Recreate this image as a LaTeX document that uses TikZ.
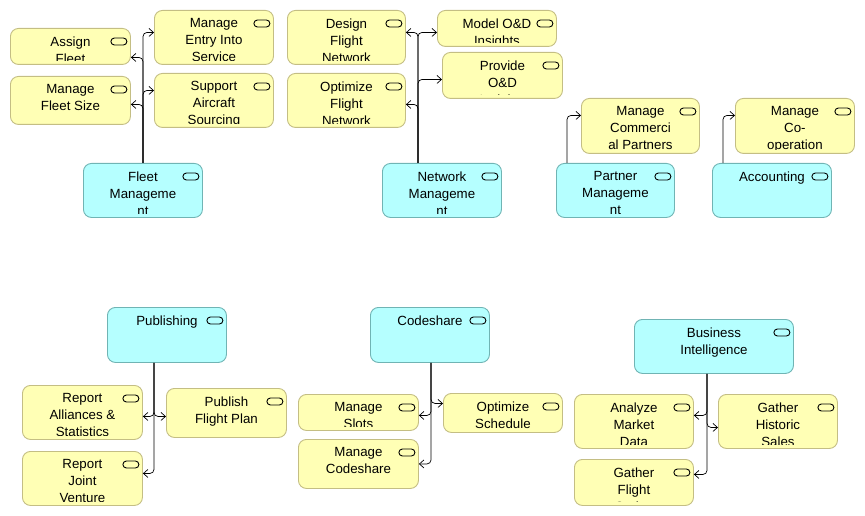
\documentclass[tikz,border=0pt]{standalone}
\usepackage{fontspec}
\setmainfont{Liberation Sans}
\usetikzlibrary{arrows.meta, calc}
\definecolor{bizfill}{HTML}{FFFFB5}
\definecolor{bizline}{HTML}{C4BE84}
\definecolor{grpfill}{HTML}{B5FFFF}
\definecolor{grpline}{HTML}{70B4B4}

% service box: name, style, left, top, width, height, text
\newcommand{\svc}[7]{%
  \node[#2, minimum width=#5pt, minimum height=#6pt, anchor=north west] (#1) at (#3,#4) {};
  \draw[svc icon] ([xshift=-4pt,yshift=-10pt]#1.north east) rectangle ++(-16pt,-7pt);
  \begin{scope}
    \clip ([yshift=4pt]#1.south west) rectangle (#1.north east);
    \node[svc text] at ([yshift=-8.3pt]#1.north) {#7};
  \end{scope}}

\begin{document}
\begin{tikzpicture}[
            x=1pt, y=-1pt,
            box/.style={draw, line width=0.9pt, rounded corners=8pt, inner sep=0pt},
            biz/.style={box, fill=bizfill, draw=bizline},
            grp/.style={box, fill=grpfill, draw=grpline},
            svc icon/.style={line width=0.9pt, black, rounded corners=3.5pt},
            svc text/.style={anchor=north, align=center, inner sep=0pt,
                font=\fontsize{13.3}{17}\selectfont},
            conn/.style={line width=0.7pt, rounded corners=4pt,
                -{Straight Barb[length=4.5pt, width=8pt]}},
        ]

        \useasboundingbox (0,0) rectangle (865,516);

        % Fleet Management
        \svc{fm}{grp}{83}{163}{119}{54}{Fleet\\Manageme\\nt}
        \svc{af}{biz}{10}{28}{120}{36}{Assign\\Fleet}
        \svc{mfs}{biz}{10}{76}{120}{48}{Manage\\Fleet Size}
        \svc{meis}{biz}{154}{10}{119}{54}{Manage\\Entry Into\\Service}
        \svc{sas}{biz}{154}{73}{119}{54}{Support\\Aircraft\\Sourcing}

        \draw[conn] ([xshift=60pt]fm.north west) |- ([yshift=5pt]meis.west);
        \draw[conn] ([xshift=60pt]fm.north west) |- ([yshift=-11pt]af.east);
        \draw[conn] ([xshift=60pt]fm.north west) |- ([yshift=10pt]sas.west);
        \draw[conn] ([xshift=60pt]fm.north west) |- ([yshift=-4pt]mfs.east);

        % Network Management
        \svc{nm}{grp}{382}{163}{119}{54}{Network\\Manageme\\nt}
        \svc{dfn}{biz}{287}{10}{118}{54}{Design\\Flight\\Network}
        \svc{ofn}{biz}{287}{73}{118}{54}{Optimize\\Flight\\Network}
        \svc{modi}{biz}{437}{10}{119}{36}{Model O\&D\\Insights}
        \svc{podi}{biz}{442}{52}{120}{46}{Provide\\O\&D\\Insights}

        \draw[conn] ([xshift=36pt]nm.north west) |- ([yshift=5pt]dfn.east);
        \draw[conn] ([xshift=36pt]nm.north west) |- ([yshift=-4pt]modi.west);
        \draw[conn] ([xshift=36pt]nm.north west) |- ([yshift=-4pt]podi.west);
        \draw[conn] ([xshift=36pt]nm.north west) |- ([yshift=-4pt]ofn.east);

        % Partner Management, Accounting
        \svc{pm}{grp}{556}{163}{118}{54}{Partner\\Manageme\\nt}
        \svc{mcp}{biz}{581}{98}{118}{55}{Manage\\Commerci\\al Partners}
        \svc{acc}{grp}{712}{163}{119}{54}{Accounting}
        \svc{mco}{biz}{735}{98}{119}{55}{Manage\\Co-\\operation}

        \draw[conn] ([xshift=11pt]pm.north west) |- ([yshift=10.5pt]mcp.west);
        \draw[conn] ([xshift=11pt]acc.north west) |- ([yshift=10.5pt]mco.west);

        % Publishing
        \svc{pub}{grp}{107}{307}{119}{55}{Publishing}
        \svc{ras}{biz}{22}{385}{120}{54}{Report\\Alliances \&\\Statistics}
        \svc{pfp}{biz}{166}{388}{120}{49}{Publish\\Flight Plan}
        \svc{rjv}{biz}{22}{451}{120}{54}{Report\\Joint\\Venture}

        \draw[conn] ([xshift=47pt]pub.south west) |- ([yshift=-4pt]ras.east);
        \draw[conn] ([xshift=47pt]pub.south west) |- ([yshift=-3.5pt]pfp.west);
        \draw[conn] ([xshift=47pt]pub.south west) |- ([yshift=5pt]rjv.east);

        % Codeshare
        \svc{cs}{grp}{370}{307}{119}{55}{Codeshare}
        \svc{ms}{biz}{298}{394}{120}{36}{Manage\\Slots}
        \svc{osch}{biz}{443}{393}{119}{39}{Optimize\\Schedule}
        \svc{mcs}{biz}{298}{439}{120}{49}{Manage\\Codeshare\\-}

        \draw[conn] ([xshift=61pt]cs.south west) |- ([yshift=9.5pt]osch.west);
        \draw[conn] ([xshift=61pt]cs.south west) |- ([yshift=-3pt]ms.east);
        \draw[conn] ([xshift=61pt]cs.south west) |- (mcs.east);

        % Business Intelligence
        \svc{bi}{grp}{634}{319}{159}{54}{Business\\Intelligence}
        \svc{amd}{biz}{574}{394}{119}{54}{Analyze\\Market\\Data}
        \svc{ghs}{biz}{718}{394}{119}{54}{Gather\\Historic\\Sales}
        \svc{gfs}{biz}{574}{459}{119}{46}{Gather\\Flight\\Series}

        \draw[conn] ([xshift=73pt]bi.south west) |- ([yshift=6pt]amd.east);
        \draw[conn] ([xshift=73pt]bi.south west) |- ([yshift=-6pt]ghs.west);
        \draw[conn] ([xshift=73pt]bi.south west) |- ([yshift=8pt]gfs.east);

\end{tikzpicture}
\end{document}
